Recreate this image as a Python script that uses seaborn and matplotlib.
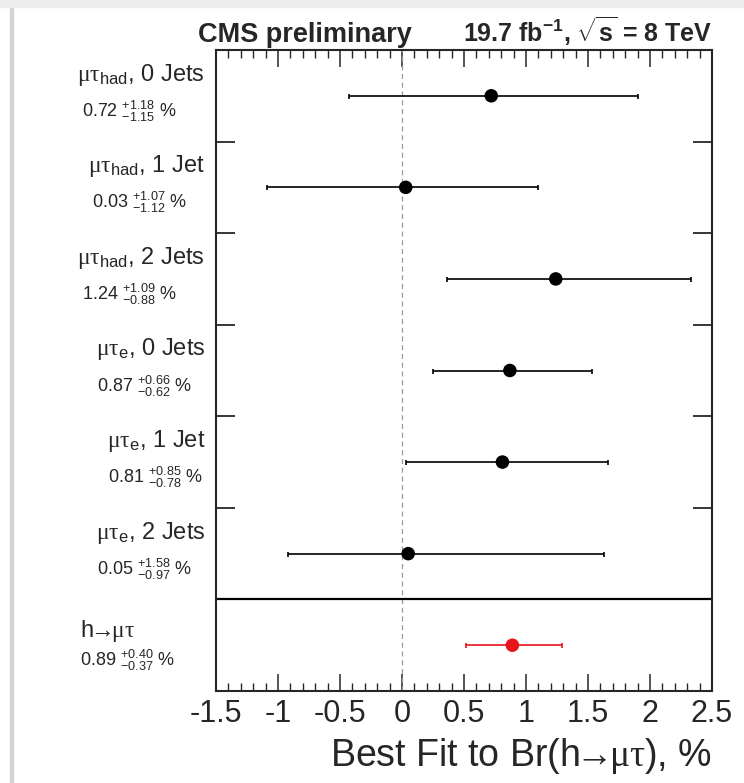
import numpy as np
import pandas as pd
import matplotlib
matplotlib.use("Agg")
import matplotlib.pyplot as plt
import matplotlib.transforms as mtransforms
from matplotlib.ticker import MultipleLocator
import seaborn as sns


# Best fit values per channel (%)
channels   = ["had", "had", "had", "e", "e", "e", "comb"]
jet_labels = ["0 Jets", "1 Jet", "2 Jets", "0 Jets", "1 Jet", "2 Jets", ""]
best_fit   = [0.72, 0.03, 1.24, 0.87, 0.81, 0.05, 0.89]
err_up     = [1.18, 1.07, 1.09, 0.66, 0.85, 1.58, 0.40]
err_down   = [1.15, 1.12, 0.88, 0.62, 0.78, 0.97, 0.37]
x_ticks    = [-1.5, -1, -0.5, 0, 0.5, 1, 1.5, 2, 2.5]

# left edge (figure px) of the value line under each label
value_left = [82, 92, 82, 97, 108, 97, 80]

n = len(best_fit)
df = pd.DataFrame({
    "channel": channels,
    "jets": jet_labels,
    "value": best_fit,
    "up": err_up,
    "down": err_down,
})
df["ypos"] = n - np.arange(n) - 0.5
df["group"] = np.where(df["channel"] == "comb", "combined", "category")

sns.set_style("ticks")
plt.rcParams["font.family"] = ["Liberation Sans", "DejaVu Sans"]
plt.rcParams["mathtext.fontset"] = "custom"
plt.rcParams["mathtext.rm"] = "Liberation Serif"
plt.rcParams["mathtext.sf"] = "Liberation Sans"
plt.rcParams["mathtext.it"] = "Liberation Sans:italic"
plt.rcParams["mathtext.bf"] = "Liberation Sans:bold"

W, H = 744, 783
fig = plt.figure(figsize=(W / 100, H / 100), dpi=100)
ax = fig.add_axes([216 / W, 1 - 691 / H, (712 - 216) / W, (691 - 50) / H])

colors = {"category": "black", "combined": "#e8141b"}

# error bars
for grp, sub in df.groupby("group"):
    ax.errorbar(sub["value"], sub["ypos"], xerr=[sub["down"], sub["up"]],
                fmt="none", ecolor=colors[grp], elinewidth=1.2,
                capsize=1.8, capthick=1.2, zorder=3)

# points
sns.scatterplot(data=df, x="value", y="ypos", hue="group", palette=colors,
                s=95, edgecolor="none", legend=False, zorder=4, ax=ax)

ax.axvline(0, color="#9a9a9a", lw=0.9, ls=(0, (4, 3)), zorder=1)
ax.axhline(1, color="black", lw=1.6, zorder=2)

ax.set_xlim(-1.5, 2.5)
ax.set_ylim(0, n)
ax.set_xticks(x_ticks)
ax.set_xticklabels([f"{t:g}" for t in x_ticks], fontsize=22)
ax.xaxis.set_minor_locator(MultipleLocator(0.1))
ax.tick_params(axis="x", which="major", direction="in", length=12, width=1.1,
               top=True, bottom=True, pad=6)
ax.tick_params(axis="x", which="minor", direction="in", length=6, width=1.0,
               top=True, bottom=True)
ax.set_yticks(range(1, n))
ax.tick_params(axis="y", which="major", direction="in", length=14, width=1.3,
               left=True, right=True, labelleft=False)
ax.set_ylabel("")
arrow_mt = r"$\!\!\mathrm{\rightarrow}\!\!\mathrm{\mu\tau}$"
ax.set_xlabel("Best Fit to Br(h" + arrow_mt + "), %",
              fontsize=27, loc="right", labelpad=5)
for sp in ax.spines.values():
    sp.set_linewidth(1.5)
    sp.set_visible(True)

# category labels on the left
trans = mtransforms.blended_transform_factory(fig.transFigure, ax.transData)
for i, row in df.iterrows():
    if row["channel"] == "comb":
        ax.text(80 / W, row["ypos"] + 0.15, "h" + arrow_mt,
                transform=trans, ha="left", va="center", fontsize=17)
    else:
        title = r"$\mathrm{\mu\tau}_{\mathsf{" + row["channel"] + "}}$, " + row["jets"]
        ax.text(205 / W, row["ypos"] + 0.23, title, transform=trans,
                ha="right", va="center", fontsize=17)
    val = (f"{row['value']:.2f} " + r"$^{\mathsf{+" + f"{row['up']:.2f}" + "}}"
           + r"_{\mathsf{-" + f"{row['down']:.2f}" + "}}$ %")
    ax.text(value_left[i] / W, row["ypos"] - 0.17, val, transform=trans,
            ha="left", va="center", fontsize=13)

# header
fig.text(198 / W, 1 - 42 / H, "CMS preliminary", fontsize=19.5,
         fontweight="bold", ha="left", va="baseline")
fig.text(712 / W, 1 - 42 / H,
         r"19.7 fb$^{\mathbf{-1}}$, $\sqrt{\mathbf{s}}$ = 8 TeV",
         fontsize=18, fontweight="bold", ha="right", va="baseline")

# screenshot frame
fig.patches.append(plt.Rectangle((0, 1 - 7 / H), 1, 7 / H, transform=fig.transFigure,
                                 color="#ececec", zorder=0))
fig.patches.append(plt.Rectangle((10 / W, 0), 2.5 / W, 1 - 8 / H,
                                 transform=fig.transFigure, color="#d4d4d4", zorder=0))

fig.savefig("out.png", dpi=100)
